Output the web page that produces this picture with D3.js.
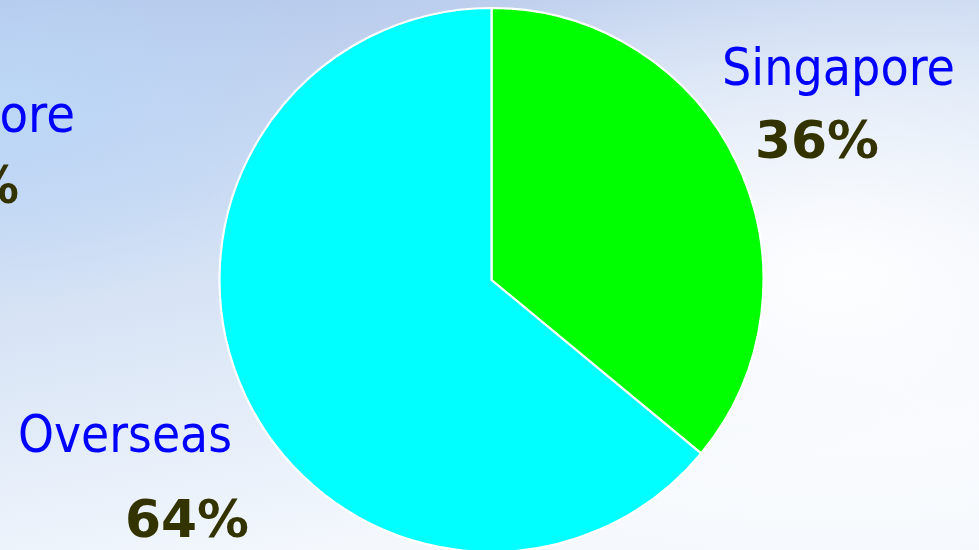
<!DOCTYPE html>
<html><head><meta charset="utf-8">
<script src="https://cdn.jsdelivr.net/npm/d3@7"></script>
<style>html,body{margin:0;padding:0;overflow:hidden;}svg{display:block;}</style>
</head><body>
<script>
const categories = ["Singapore", "Overseas"];
const values = [36, 64];
const percentLabels = ["36%", "64%"];
const colors = ["#00ff00", "#00ffff"];

const W = 979, H = 550;
const svg = d3.select("body").append("svg").attr("width", W).attr("height", H);
const defs = svg.append("defs");
const lg = defs.append("linearGradient").attr("id","bg").attr("x1",0).attr("y1",0).attr("x2",0.35).attr("y2",1);
lg.append("stop").attr("offset","0%").attr("stop-color","#b2c6ea");
lg.append("stop").attr("offset","45%").attr("stop-color","#d2e0f4");
lg.append("stop").attr("offset","100%").attr("stop-color","#f4f8fd");
svg.append("rect").attr("width",W).attr("height",H).attr("fill","url(#bg)");
const rg = defs.append("radialGradient").attr("id","glow").attr("cx",0.85).attr("cy",0.5).attr("r",0.6);
rg.append("stop").attr("offset","0%").attr("stop-color","#ffffff").attr("stop-opacity",0.95);
rg.append("stop").attr("offset","100%").attr("stop-color","#ffffff").attr("stop-opacity",0);
svg.append("rect").attr("width",W).attr("height",H).attr("fill","url(#glow)");
const rg2 = defs.append("radialGradient").attr("id","lb").attr("cx",0).attr("cy",0.2).attr("r",0.35);
rg2.append("stop").attr("offset","0%").attr("stop-color","#bcd8f8").attr("stop-opacity",0.9);
rg2.append("stop").attr("offset","100%").attr("stop-color","#bcd8f8").attr("stop-opacity",0);
svg.append("rect").attr("width",W).attr("height",H).attr("fill","url(#lb)");

const cx = 491.5, cy = 280, r = 272;
const pie = d3.pie().sort(null).value(d => d)(values);
const arc = d3.arc().innerRadius(0).outerRadius(r);
svg.append("g").attr("transform",`translate(${cx},${cy})`)
  .selectAll("path").data(pie).join("path")
  .attr("d", arc).attr("fill",(d,i)=>colors[i])
  .attr("stroke","#ffffff").attr("stroke-width",2.2);

const font = "'DejaVu Sans Condensed','DejaVu Sans',sans-serif";
const labelPos = [{x:722,y:85,px:755,py:158},{x:18,y:452,px:125,py:537}];
categories.forEach((c,i)=>{
  svg.append("text").attr("x",labelPos[i].x).attr("y",labelPos[i].y)
    .attr("font-family",font).attr("font-size",52).attr("fill","#0000ff")
    .attr("textLength", i===0?233:214).attr("lengthAdjust","spacingAndGlyphs").text(c);
  svg.append("text").attr("x",labelPos[i].px).attr("y",labelPos[i].py)
    .attr("font-family",font).attr("font-size",52).attr("font-weight","bold").attr("fill","#333300")
    .attr("textLength",124).attr("lengthAdjust","spacingAndGlyphs").text(percentLabels[i]);
});
// partially visible labels of an adjacent chart, cut off at the left edge
svg.append("text").attr("x",75).attr("y",132).attr("text-anchor","end")
  .attr("font-family",font).attr("font-size",52).attr("fill","#0000ff").text("Singapore");
svg.append("text").attr("x",19).attr("y",203).attr("text-anchor","end")
  .attr("font-family",font).attr("font-size",52).attr("font-weight","bold").attr("fill","#333300").text("36%");
</script>
</body></html>
